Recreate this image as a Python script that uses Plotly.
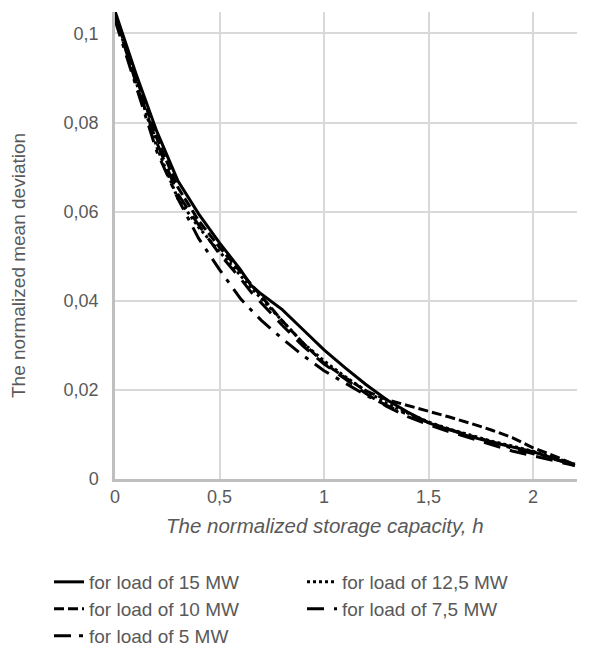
import plotly.graph_objects as go

h = [0, 0.1, 0.2, 0.3, 0.4, 0.5, 0.6, 0.65, 0.7, 0.8, 0.9, 1.0, 1.1, 1.2, 1.3, 1.4, 1.5, 1.6, 1.7, 1.8, 1.9, 2.0, 2.1, 2.2]

load_15 = [0.105, 0.091, 0.078, 0.067, 0.0595, 0.053, 0.047, 0.0435, 0.0415, 0.038, 0.0335, 0.029, 0.0250, 0.0212, 0.0178, 0.0150, 0.0126, 0.0110, 0.0095, 0.0083, 0.0072, 0.0061, 0.0046, 0.0030]
load_12_5 = [0.104, 0.089, 0.0745, 0.063, 0.0565, 0.051, 0.0455, 0.043, 0.0405, 0.0355, 0.0305, 0.0265, 0.0230, 0.0198, 0.0170, 0.0148, 0.0128, 0.0112, 0.0098, 0.0085, 0.0074, 0.0062, 0.0048, 0.0033]
load_10 = [0.104, 0.090, 0.0765, 0.0655, 0.058, 0.052, 0.0465, 0.0437, 0.041, 0.0355, 0.0305, 0.026, 0.0228, 0.0198, 0.0178, 0.0165, 0.0153, 0.0139, 0.0125, 0.0110, 0.0093, 0.0070, 0.0052, 0.0032]
load_7_5 = [0.104, 0.089, 0.0755, 0.064, 0.057, 0.0505, 0.045, 0.042, 0.0395, 0.0345, 0.0298, 0.0258, 0.0225, 0.0192, 0.0163, 0.0140, 0.0122, 0.0106, 0.0092, 0.0078, 0.0063, 0.0052, 0.0041, 0.0030]
load_5 = [0.103, 0.088, 0.0735, 0.063, 0.054, 0.047, 0.0405, 0.038, 0.0356, 0.0315, 0.0277, 0.0243, 0.0215, 0.0188, 0.0165, 0.0145, 0.0127, 0.0111, 0.0097, 0.0084, 0.0069, 0.0057, 0.0045, 0.0032]

names = ["for load of 15 MW", "for load of 12,5 MW", "for load of 10 MW", "for load of 7,5 MW", "for load of 5 MW"]
series = [load_15, load_12_5, load_10, load_7_5, load_5]
dashes = ["solid", "dot", "10px,4px", "17px,10px", "17px,8px,4px,8px"]
legends = ["legend", "legend2", "legend3", "legend4", "legend5"]

x_tickvals = [0, 0.5, 1, 1.5, 2]
x_ticktext = ["0", "0,5", "1", "1,5", "2"]
y_tickvals = [0, 0.02, 0.04, 0.06, 0.08, 0.1]
y_ticktext = ["0", "0,02", "0,04", "0,06", "0,08", "0,1"]
x_title = "The normalized storage capacity, h"
y_title = "The normalized mean deviation"

W, H = 596, 656
L, R, T, B = 107, 27, 4, 185
PW, PH = W - L - R, H - T - B

fig = go.Figure()
for name, ys, dash, lg in zip(names, series, dashes, legends):
    fig.add_trace(go.Scatter(
        x=h, y=ys, name=name, mode="lines",
        line=dict(color="black", width=3, dash=dash),
        legend=lg,
    ))

font_family = "Liberation Sans, Arial, sans-serif"
grey = "#595959"

def leg(px, py):
    return dict(
        orientation="v", xanchor="left", yanchor="middle",
        xref="container", yref="container",
        x=px / W, y=1 - py / H,
        font=dict(family=font_family, size=19, color=grey),
        bgcolor="rgba(0,0,0,0)", borderwidth=0,
    )

fig.update_layout(
    width=W, height=H,
    margin=dict(l=L, r=R, t=T, b=B, autoexpand=False),
    paper_bgcolor="white", plot_bgcolor="white",
    font=dict(family=font_family, size=16, color=grey),
    showlegend=True,
    legend=leg(41, 574),
    legend2=leg(294, 574),
    legend3=leg(41, 601),
    legend4=leg(294, 601),
    legend5=leg(41, 628),
    xaxis=dict(
        range=[0, 2.21], tickvals=x_tickvals, ticktext=x_ticktext,
        showgrid=True, gridcolor="#d9d9d9", gridwidth=1.5,
        zeroline=False, showline=True, linecolor="#bfbfbf", linewidth=2.5,
        ticks="", tickfont=dict(size=18, color=grey), automargin=False,
    ),
    yaxis=dict(
        range=[0, 0.1048], tickvals=y_tickvals, ticktext=y_ticktext,
        showgrid=True, gridcolor="#d9d9d9", gridwidth=1.5,
        zeroline=False, showline=True, linecolor="#bfbfbf", linewidth=2.5,
        ticks="outside", ticklen=10, tickcolor="rgba(0,0,0,0)",
        tickfont=dict(size=18, color=grey), automargin=False,
    ),
    annotations=[
        dict(text="<i>" + x_title + "</i>", xref="paper", yref="paper",
             x=(317 - L) / PW, y=-(517 - T - PH) / PH,
             xanchor="center", yanchor="middle", showarrow=False,
             font=dict(family=font_family, size=20.5, color=grey)),
        dict(text=y_title, xref="paper", yref="paper",
             x=(10 - L) / PW, y=1 - (258 - T) / PH, textangle=-90,
             xanchor="center", yanchor="middle", showarrow=False,
             font=dict(family=font_family, size=19, color=grey)),
    ],
)

fig.write_html("out.html")
